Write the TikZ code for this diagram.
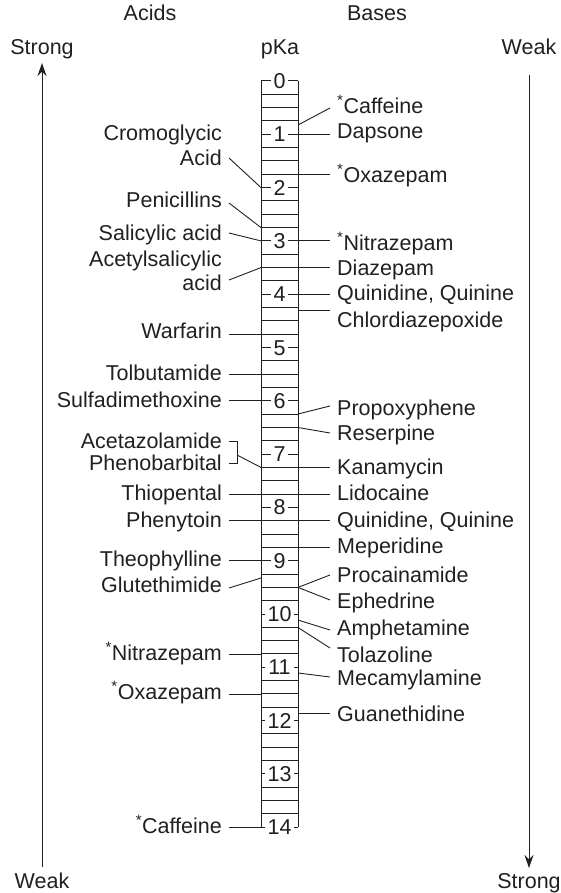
\documentclass[tikz,border=0pt]{standalone}
\usepackage{fontspec}
\setmainfont{Liberation Sans}
\usetikzlibrary{arrows.meta}
\definecolor{ink}{HTML}{231F20}
\begin{document}
\begin{tikzpicture}[x=1pt,y=-1pt,
  every node/.style={font=\fontsize{21.5}{25}\selectfont, text=ink},
  rlab/.style={inner xsep=7pt, inner ysep=0pt, anchor=base west},
  llab/.style={inner xsep=7pt, inner ysep=0pt, anchor=base east},
  hd/.style={inner sep=0pt, anchor=base},
  con/.style={draw=ink, line width=0.9pt},
  col/.style={draw=ink, line width=1pt},
  num/.style={fill=white, inner xsep=3pt, inner ysep=1pt, text height=15pt, text depth=0pt},
  arr/.style={draw=ink, line width=1pt, -{Stealth[length=13pt,width=9pt]}}]
\useasboundingbox (0,0) rectangle (560,893);

% headings
\node[hd] (acids) at (150,20.5) {Acids};
\node[hd] (bases) at (377,20.5) {Bases};
\node[hd] (pka) at (280,54.5) {pKa};
\node[hd] (strongL) at (42,54.5) {Strong};
\node[hd] (weakR) at (529,54.5) {Weak};
\node[hd] (weakL) at (42,888) {Weak};
\node[hd] (strongR) at (529,888) {Strong};

% arrows
\coordinate (aLs) at (42,867);
\coordinate (aLe) at (42,63);
\coordinate (aRs) at (529,75);
\coordinate (aRe) at (529,868);
\draw[arr] (aLs) -- (aLe);
\draw[arr] (aRs) -- (aRe);

% pKa column
\coordinate (cTL) at (261,81);
\coordinate (cBL) at (261,827.2);
\coordinate (cTR) at (298,81);
\coordinate (cBR) at (298,827.2);
\foreach \k in {0,...,13}{
  \foreach \q in {0.25,0.5,0.75}{
    \draw[col] (261,{81+53.3*(\k+\q)}) -- (298,{81+53.3*(\k+\q)});
  }
}
\foreach \k in {0,...,14}{
  \draw[col] (261,{81+53.3*\k}) -- (298,{81+53.3*\k});
  \node[num] (n\k) at (279.5,{81+53.3*\k}) {\k};
}
\draw[col] (cTL) -- (cBL);
\draw[col] (cTR) -- (cBR);

% ---------- Bases (right) ----------
\node[rlab] (caf) at (330,113.5) {\textsuperscript{*}Caffeine};
\draw[con] (298,125) -- (caf.west |- 0,108);
\node[rlab] (dap) at (330,138.5) {Dapsone};
\draw[con] (298,134.3) -- (dap.west |- 0,134.3);
\node[rlab] (oxa) at (330,182.5) {\textsuperscript{*}Oxazepam};
\draw[con] (298,174.3) -- (oxa.west |- 0,174.3);
\node[rlab] (nit) at (330,250.5) {\textsuperscript{*}Nitrazepam};
\draw[con] (298,240.9) -- (nit.west |- 0,240.9);
\node[rlab] (dia) at (330,275.5) {Diazepam};
\draw[con] (298,267.6) -- (dia.west |- 0,267.6);
\node[rlab] (quiA) at (330,300.5) {Quinidine, Quinine};
\draw[con] (298,294.2) -- (quiA.west |- 0,294.2);
\node[rlab] (chl) at (330,327.5) {Chlordiazepoxide};
\draw[con] (298,310) -- (chl.west |- 0,310);
\node[rlab] (pro) at (330,415.5) {Propoxyphene};
\draw[con] (298,414) -- (pro.west |- 0,406);
\node[rlab] (res) at (330,440.5) {Reserpine};
\draw[con] (298,427.5) -- (res.west |- 0,433);
\node[rlab] (kan) at (330,474.5) {Kanamycin};
\draw[con] (298,467.4) -- (kan.west |- 0,467.4);
\node[rlab] (lid) at (330,500.5) {Lidocaine};
\draw[con] (298,494) -- (lid.west |- 0,494);
\node[rlab] (quiB) at (330,527.5) {Quinidine, Quinine};
\draw[con] (298,520.7) -- (quiB.west |- 0,520.7);
\node[rlab] (mep) at (330,553.5) {Meperidine};
\draw[con] (298,547.4) -- (mep.west |- 0,547.4);
\node[rlab] (proc) at (330,582.5) {Procainamide};
\draw[con] (298,587.4) -- (proc.west |- 0,575);
\node[rlab] (eph) at (330,608.5) {Ephedrine};
\draw[con] (298,587.4) -- (eph.west |- 0,600);
\node[rlab] (amp) at (330,635.5) {Amphetamine};
\draw[con] (298,620) -- (amp.west |- 0,630);
\node[rlab] (tol) at (330,662.5) {Tolazoline};
\draw[con] (298,627.5) -- (tol.west |- 0,648);
\node[rlab] (mec) at (330,685) {Mecamylamine};
\draw[con] (298,673) -- (mec.west |- 0,677);
\node[rlab] (gua) at (330,721.5) {Guanethidine};
\draw[con] (298,713) -- (gua.west |- 0,713);

% ---------- Acids (left) ----------
\node[llab] (cromA) at (229,140.5) {Cromoglycic};
\node[llab] (cromB) at (229,165.5) {Acid};
\draw[con] (cromB.east |- 0,158) -- (261,187.6);
\node[llab] (pen) at (229,207.5) {Penicillins};
\draw[con] (pen.east |- 0,203) -- (261,227.6);
\node[llab] (sal) at (229,240.5) {Salicylic acid};
\draw[con] (sal.east |- 0,233) -- (261,240.9);
\node[llab] (acsA) at (229,266.5) {Acetylsalicylic};
\node[llab] (acsB) at (229,290.5) {acid};
\draw[con] (acsB.east |- 0,280) -- (261,267.6);
\node[llab] (war) at (229,338.5) {Warfarin};
\draw[con] (war.east |- 0,334) -- (261,334);
\node[llab] (tolb) at (229,380.5) {Tolbutamide};
\draw[con] (tolb.east |- 0,374.2) -- (261,374.2);
\node[llab] (sulf) at (229,407.5) {Sulfadimethoxine};
\draw[con] (sulf.east |- 0,400.8) -- (261,400.8);
\node[llab] (acz) at (229,448.5) {Acetazolamide};
\node[llab] (phb) at (229,470.5) {Phenobarbital};
\draw[con] (acz.east |- 0,441) -- (237,441) -- (237,463) -- (phb.east |- 0,463);
\draw[con] (237,455) -- (261,467.4);
\node[llab] (thio) at (229,500.5) {Thiopental};
\draw[con] (thio.east |- 0,494) -- (261,494);
\node[llab] (phy) at (229,527.5) {Phenytoin};
\draw[con] (phy.east |- 0,520.7) -- (261,520.7);
\node[llab] (theo) at (229,566.5) {Theophylline};
\draw[con] (theo.east |- 0,560.7) -- (261,560.7);
\node[llab] (glu) at (229,592.5) {Glutethimide};
\draw[con] (glu.east |- 0,588) -- (261,578);
\node[llab] (nitL) at (229,660.5) {\textsuperscript{*}Nitrazepam};
\draw[con] (nitL.east |- 0,654) -- (261,654);
\node[llab] (oxaL) at (229,699.5) {\textsuperscript{*}Oxazepam};
\draw[con] (oxaL.east |- 0,694) -- (261,694);
\node[llab] (cafL) at (229,833) {\textsuperscript{*}Caffeine};
\draw[con] (cafL.east |- 0,827.2) -- (261,827.2);
\end{tikzpicture}
\end{document}
